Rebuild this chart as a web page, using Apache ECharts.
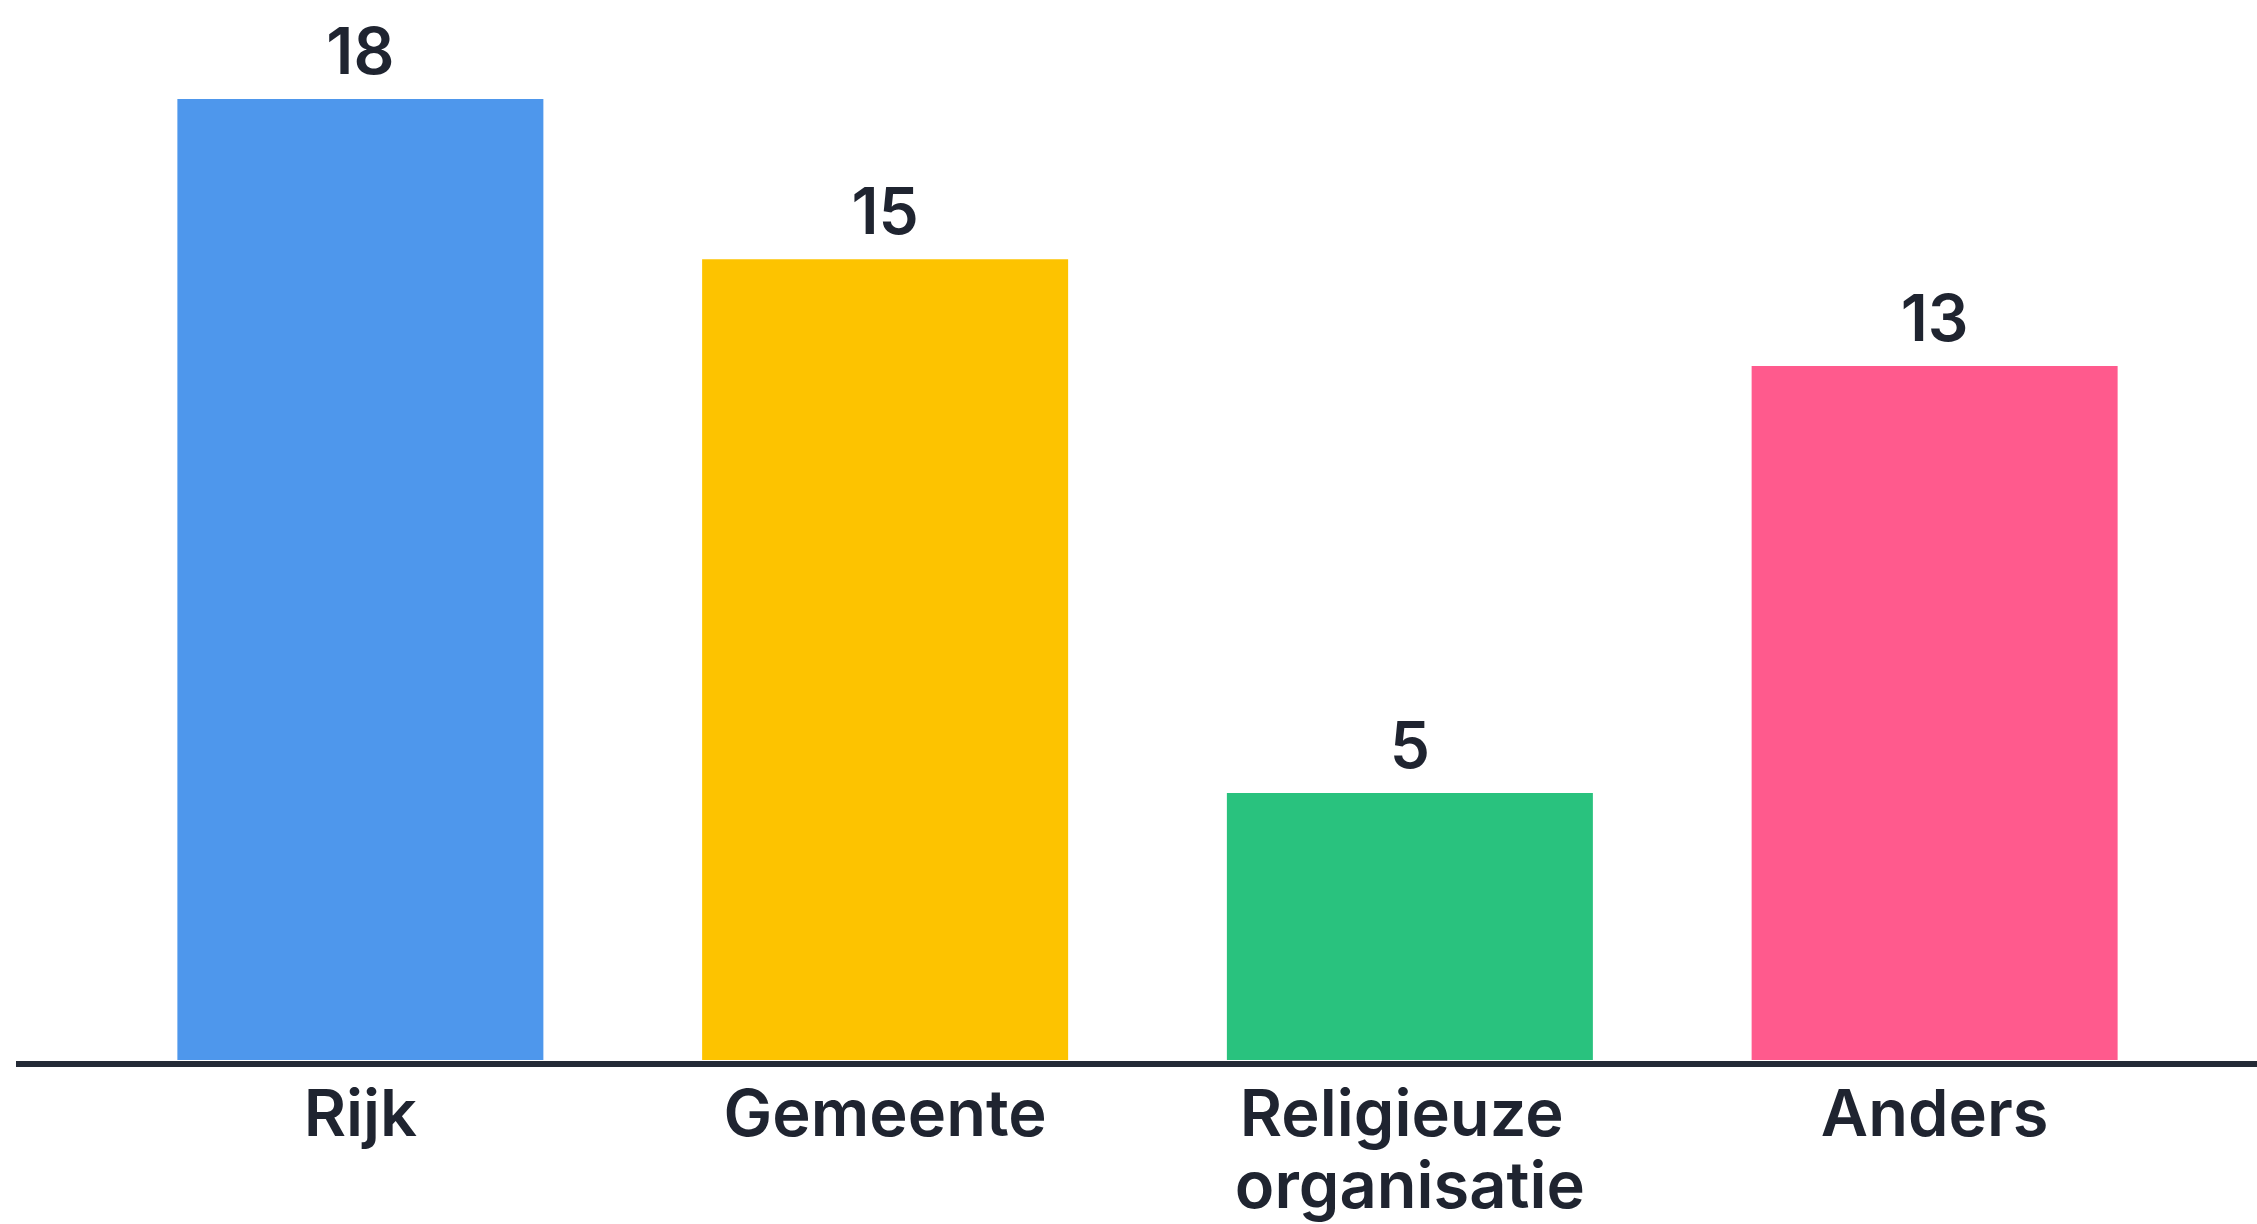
<!DOCTYPE html>
<html>
<head>
<meta charset="utf-8">
<script src="https://cdn.jsdelivr.net/npm/echarts@6/dist/echarts.min.js"></script>
<style>
html,body{margin:0;padding:0;background:#fff;}
#chart{width:2257px;height:1224px;}
</style>
</head>
<body>
<div id="chart"></div>
<script>
const categories = ['Rijk', 'Gemeente', 'Religieuze organisatie', 'Anders'];
const values = [18, 15, 5, 13];
const barColors = ['#4E97EC', '#FDC300', '#29C27E', '#FF5A8D'];

const chart = echarts.init(document.getElementById('chart'), null, {renderer: 'canvas'});
const FONT = 'Inter';
const TEXT = '#1F2430';
const gridTop = 99, gridBottom = 163;

chart.setOption({
  animation: false,
  backgroundColor: '#ffffff',
  grid: {left: 98, right: 60, top: gridTop, bottom: gridBottom, containLabel: false},
  xAxis: {
    type: 'category',
    data: categories,
    axisLine: {show: false},
    axisTick: {show: false},
    axisLabel: {
      color: TEXT, fontFamily: FONT, fontSize: 65, fontWeight: 600,
      lineHeight: 72, margin: 20, width: 400, overflow: 'break', interval: 0
    }
  },
  yAxis: {
    type: 'value', min: 0, max: 18,
    show: false, splitLine: {show: false}
  },
  series: [{
    type: 'bar',
    data: values.map((v, i) => ({value: v, itemStyle: {color: barColors[i]}})),
    barWidth: 366,
    label: {
      show: true, position: 'top', distance: 12,
      color: TEXT, fontFamily: FONT, fontSize: 64, fontWeight: 600
    }
  }],
  graphic: [{
    type: 'line',
    z: 10,
    shape: {x1: 16, y1: 1224 - gridBottom + 3, x2: 2257, y2: 1224 - gridBottom + 3},
    style: {stroke: '#232A36', lineWidth: 6}
  }]
});
</script>
</body>
</html>
